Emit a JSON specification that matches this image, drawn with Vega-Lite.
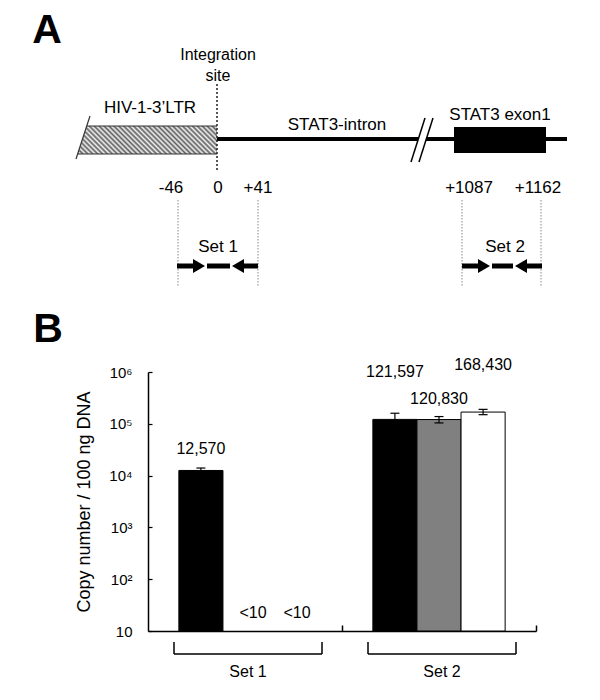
{
  "$schema": "https://vega.github.io/schema/vega-lite/v6.json",
  "padding": 0,
  "background": "white",
  "config": {"font": "Liberation Sans", "view": {"stroke": null}, "text": {"color": "black"}},
  "datasets": {
    "segments": [
      {"kind": "main", "x": 217, "y": 139, "x2": 418, "y2": 139},
      {"kind": "main", "x": 426, "y": 139, "x2": 567, "y2": 139},
      {"kind": "slash", "x": 425, "y": 118, "x2": 411, "y2": 162},
      {"kind": "slash", "x": 433, "y": 118, "x2": 419, "y2": 162},
      {"kind": "edge", "x": 87, "y": 126, "x2": 217, "y2": 126},
      {"kind": "edge", "x": 78, "y": 154, "x2": 217, "y2": 154},
      {"kind": "edge", "x": 90, "y": 116, "x2": 76, "y2": 159},
      {"kind": "site", "x": 217, "y": 84, "x2": 217, "y2": 172},
      {"kind": "guide", "x": 178, "y": 200, "x2": 178, "y2": 287},
      {"kind": "guide", "x": 258, "y": 200, "x2": 258, "y2": 287},
      {"kind": "guide", "x": 462, "y": 200, "x2": 462, "y2": 287},
      {"kind": "guide", "x": 541, "y": 200, "x2": 541, "y2": 287},
      {"kind": "arrow", "x": 177, "y": 266, "x2": 195, "y2": 266},
      {"kind": "arrow", "x": 207, "y": 266, "x2": 230, "y2": 266},
      {"kind": "arrow", "x": 242, "y": 266, "x2": 258, "y2": 266},
      {"kind": "arrow", "x": 462, "y": 266, "x2": 480, "y2": 266},
      {"kind": "arrow", "x": 492, "y": 266, "x2": 513, "y2": 266},
      {"kind": "arrow", "x": 526, "y": 266, "x2": 542, "y2": 266}
    ],
    "heads": [
      {"x": 199, "y": 266, "dir": "right"},
      {"x": 238, "y": 266, "dir": "left"},
      {"x": 484, "y": 266, "dir": "right"},
      {"x": 521, "y": 266, "dir": "left"}
    ],
    "hivbox": [
      {"x": 78, "y": 154, "y2": 154},
      {"x": 87, "y": 126, "y2": 154},
      {"x": 217, "y": 126, "y2": 154}
    ],
    "exon": [{"x": 454, "x2": 546, "y": 127, "y2": 153}],
    "texts": [
      {"x": 47, "y": 43, "text": "A", "kind": "panel"},
      {"x": 48, "y": 342, "text": "B", "kind": "panel"},
      {"x": 218, "y": 60, "text": "Integration", "kind": "small"},
      {"x": 218, "y": 81, "text": "site", "kind": "small"},
      {"x": 150, "y": 113, "text": "HIV-1-3’LTR", "kind": "label"},
      {"x": 337, "y": 130, "text": "STAT3-intron", "kind": "label"},
      {"x": 500, "y": 120, "text": "STAT3 exon1", "kind": "label"},
      {"x": 171, "y": 193, "text": "-46", "kind": "label"},
      {"x": 218, "y": 193, "text": "0", "kind": "label"},
      {"x": 258, "y": 193, "text": "+41", "kind": "label"},
      {"x": 469, "y": 193, "text": "+1087", "kind": "label"},
      {"x": 538, "y": 193, "text": "+1162", "kind": "label"},
      {"x": 218, "y": 252, "text": "Set 1", "kind": "label"},
      {"x": 505, "y": 252, "text": "Set 2", "kind": "label"}
    ],
    "counts": [
      {"set": "Set 1", "sample": "S1", "copies": 12570, "lo": 11300, "hi": 14000, "label": "12,570"},
      {"set": "Set 1", "sample": "S2", "copies": null, "lo": null, "hi": null, "label": "<10"},
      {"set": "Set 1", "sample": "S3", "copies": null, "lo": null, "hi": null, "label": "<10"},
      {"set": "Set 2", "sample": "S1", "copies": 121597, "lo": 90000, "hi": 160000, "label": "121,597"},
      {"set": "Set 2", "sample": "S2", "copies": 120830, "lo": 104000, "hi": 138000, "label": "120,830"},
      {"set": "Set 2", "sample": "S3", "copies": 168430, "lo": 150000, "hi": 190000, "label": "168,430"}
    ],
    "sets": [{"set": "Set 1"}, {"set": "Set 2"}]
  },
  "spacing": 0,
  "bounds": "flush",
  "vconcat": [
    {
      "width": 600,
      "height": 372,
      "encoding": {
        "x": {"field": "x", "type": "quantitative", "scale": {"domain": [0, 600], "nice": false, "zero": false}, "axis": null},
        "y": {"field": "y", "type": "quantitative", "scale": {"domain": [0, 372], "nice": false, "zero": false, "reverse": true}, "axis": null}
      },
      "layer": [
        {
          "data": {"name": "hivbox"},
          "mark": {
            "type": "area", "orient": "vertical",
            "fill": {
              "gradient": "linear", "x1": 0, "y1": 1, "x2": 1.1546, "y2": 0.7675,
              "stops": [
                {"offset": 0, "color": "#5e5e5e"}, {"offset": 0.0147, "color": "#f2f2f2"},
                {"offset": 0.0294, "color": "#5e5e5e"}, {"offset": 0.0441, "color": "#f2f2f2"},
                {"offset": 0.0588, "color": "#5e5e5e"}, {"offset": 0.0735, "color": "#f2f2f2"},
                {"offset": 0.0882, "color": "#5e5e5e"}, {"offset": 0.1029, "color": "#f2f2f2"},
                {"offset": 0.1176, "color": "#5e5e5e"}, {"offset": 0.1324, "color": "#f2f2f2"},
                {"offset": 0.1471, "color": "#5e5e5e"}, {"offset": 0.1618, "color": "#f2f2f2"},
                {"offset": 0.1765, "color": "#5e5e5e"}, {"offset": 0.1912, "color": "#f2f2f2"},
                {"offset": 0.2059, "color": "#5e5e5e"}, {"offset": 0.2206, "color": "#f2f2f2"},
                {"offset": 0.2353, "color": "#5e5e5e"}, {"offset": 0.25, "color": "#f2f2f2"},
                {"offset": 0.2647, "color": "#5e5e5e"}, {"offset": 0.2794, "color": "#f2f2f2"},
                {"offset": 0.2941, "color": "#5e5e5e"}, {"offset": 0.3088, "color": "#f2f2f2"},
                {"offset": 0.3235, "color": "#5e5e5e"}, {"offset": 0.3382, "color": "#f2f2f2"},
                {"offset": 0.3529, "color": "#5e5e5e"}, {"offset": 0.3676, "color": "#f2f2f2"},
                {"offset": 0.3824, "color": "#5e5e5e"}, {"offset": 0.3971, "color": "#f2f2f2"},
                {"offset": 0.4118, "color": "#5e5e5e"}, {"offset": 0.4265, "color": "#f2f2f2"},
                {"offset": 0.4412, "color": "#5e5e5e"}, {"offset": 0.4559, "color": "#f2f2f2"},
                {"offset": 0.4706, "color": "#5e5e5e"}, {"offset": 0.4853, "color": "#f2f2f2"},
                {"offset": 0.5, "color": "#5e5e5e"}, {"offset": 0.5147, "color": "#f2f2f2"},
                {"offset": 0.5294, "color": "#5e5e5e"}, {"offset": 0.5441, "color": "#f2f2f2"},
                {"offset": 0.5588, "color": "#5e5e5e"}, {"offset": 0.5735, "color": "#f2f2f2"},
                {"offset": 0.5882, "color": "#5e5e5e"}, {"offset": 0.6029, "color": "#f2f2f2"},
                {"offset": 0.6176, "color": "#5e5e5e"}, {"offset": 0.6324, "color": "#f2f2f2"},
                {"offset": 0.6471, "color": "#5e5e5e"}, {"offset": 0.6618, "color": "#f2f2f2"},
                {"offset": 0.6765, "color": "#5e5e5e"}, {"offset": 0.6912, "color": "#f2f2f2"},
                {"offset": 0.7059, "color": "#5e5e5e"}, {"offset": 0.7206, "color": "#f2f2f2"},
                {"offset": 0.7353, "color": "#5e5e5e"}, {"offset": 0.75, "color": "#f2f2f2"},
                {"offset": 0.7647, "color": "#5e5e5e"}, {"offset": 0.7794, "color": "#f2f2f2"},
                {"offset": 0.7941, "color": "#5e5e5e"}, {"offset": 0.8088, "color": "#f2f2f2"},
                {"offset": 0.8235, "color": "#5e5e5e"}, {"offset": 0.8382, "color": "#f2f2f2"},
                {"offset": 0.8529, "color": "#5e5e5e"}, {"offset": 0.8676, "color": "#f2f2f2"},
                {"offset": 0.8824, "color": "#5e5e5e"}, {"offset": 0.8971, "color": "#f2f2f2"},
                {"offset": 0.9118, "color": "#5e5e5e"}, {"offset": 0.9265, "color": "#f2f2f2"},
                {"offset": 0.9412, "color": "#5e5e5e"}, {"offset": 0.9559, "color": "#f2f2f2"},
                {"offset": 0.9706, "color": "#5e5e5e"}, {"offset": 0.9853, "color": "#f2f2f2"},
                {"offset": 1, "color": "#5e5e5e"}
              ]
            }
          },
          "encoding": {"y2": {"field": "y2"}}
        },
        {
          "data": {"name": "segments"},
          "transform": [{"filter": "datum.kind == 'edge'"}],
          "mark": {"type": "rule", "color": "#333333", "strokeWidth": 1.2},
          "encoding": {"x2": {"field": "x2"}, "y2": {"field": "y2"}}
        },
        {
          "data": {"name": "segments"},
          "transform": [{"filter": "datum.kind == 'main'"}],
          "mark": {"type": "rule", "color": "black", "strokeWidth": 4},
          "encoding": {"x2": {"field": "x2"}, "y2": {"field": "y2"}}
        },
        {
          "data": {"name": "segments"},
          "transform": [{"filter": "datum.kind == 'slash'"}],
          "mark": {"type": "rule", "color": "black", "strokeWidth": 1.5},
          "encoding": {"x2": {"field": "x2"}, "y2": {"field": "y2"}}
        },
        {
          "data": {"name": "segments"},
          "transform": [{"filter": "datum.kind == 'site'"}],
          "mark": {"type": "rule", "color": "#222222", "strokeWidth": 1.5, "strokeDash": [2, 2]},
          "encoding": {"x2": {"field": "x2"}, "y2": {"field": "y2"}}
        },
        {
          "data": {"name": "segments"},
          "transform": [{"filter": "datum.kind == 'guide'"}],
          "mark": {"type": "rule", "color": "#888888", "strokeWidth": 1, "strokeDash": [1.5, 1.5]},
          "encoding": {"x2": {"field": "x2"}, "y2": {"field": "y2"}}
        },
        {
          "data": {"name": "segments"},
          "transform": [{"filter": "datum.kind == 'arrow'"}],
          "mark": {"type": "rule", "color": "black", "strokeWidth": 5},
          "encoding": {"x2": {"field": "x2"}, "y2": {"field": "y2"}}
        },
        {
          "data": {"name": "heads"},
          "mark": {"type": "point", "filled": true, "opacity": 1, "color": "black", "size": 196},
          "encoding": {
            "shape": {"field": "dir", "type": "nominal", "scale": {"domain": ["right", "left"], "range": ["M-0.86,-1L0.86,0L-0.86,1Z", "M0.86,-1L-0.86,0L0.86,1Z"]}, "legend": null}
          }
        },
        {
          "data": {"name": "exon"},
          "mark": {"type": "rect", "color": "black"},
          "encoding": {"x2": {"field": "x2"}, "y2": {"field": "y2"}}
        },
        {
          "data": {"name": "texts"},
          "transform": [{"filter": "datum.kind == 'panel'"}],
          "mark": {"type": "text", "fontSize": 41, "fontWeight": "bold", "baseline": "alphabetic"},
          "encoding": {"text": {"field": "text"}}
        },
        {
          "data": {"name": "texts"},
          "transform": [{"filter": "datum.kind == 'label'"}],
          "mark": {"type": "text", "fontSize": 17, "baseline": "alphabetic"},
          "encoding": {"text": {"field": "text"}}
        },
        {
          "data": {"name": "texts"},
          "transform": [{"filter": "datum.kind == 'small'"}],
          "mark": {"type": "text", "fontSize": 16, "baseline": "alphabetic"},
          "encoding": {"text": {"field": "text"}}
        }
      ]
    },
    {
      "spacing": 0,
      "bounds": "flush",
      "hconcat": [
        {
          "width": 148,
          "height": 259,
          "data": {"values": [{"a": 1}]},
          "mark": {"type": "point", "opacity": 0},
          "encoding": {}
        },
        {
          "width": 388,
          "height": 259,
          "layer": [
            {
              "data": {"name": "counts"},
              "mark": {"type": "bar", "stroke": "black", "strokeWidth": 1},
              "encoding": {
                "x": {"field": "set", "type": "nominal", "scale": {"paddingInner": 0, "paddingOuter": 0},
                  "axis": {"title": null, "labels": false, "ticks": true, "tickSize": -6, "tickWidth": 1.5, "tickColor": "black", "bandPosition": 1, "domainColor": "black", "domainWidth": 1.5}},
                "xOffset": {"field": "sample", "type": "nominal", "scale": {"domain": ["S1", "S2", "S3"], "paddingOuter": 0.7, "paddingInner": 0}},
                "y": {"field": "copies", "type": "quantitative", "scale": {"type": "log", "domain": [10, 1000000], "nice": false},
                  "axis": {"title": "Copy number / 100 ng DNA", "values": [10, 100, 1000, 10000, 100000, 1000000],
                    "labelExpr": "datum.value >= 1000000 ? '10⁶' : datum.value >= 100000 ? '10⁵' : datum.value >= 10000 ? '10⁴' : datum.value >= 1000 ? '10³' : datum.value >= 100 ? '10²' : '10'",
                    "grid": false, "domainColor": "black", "domainWidth": 1.5, "tickColor": "black", "tickSize": -4, "tickWidth": 1.2,
                    "labelFontSize": 15, "labelColor": "black", "labelPadding": 20,
                    "titleFontSize": 18, "titleFontWeight": "normal", "titleColor": "black", "titlePadding": 15}},
                "y2": {"datum": 10},
                "fill": {"field": "sample", "type": "nominal", "scale": {"domain": ["S1", "S2", "S3"], "range": ["#000000", "#808080", "#ffffff"]}, "legend": null}
              }
            },
            {
              "data": {"name": "counts"},
              "transform": [{"filter": "datum.copies != null"}],
              "mark": {"type": "rule", "color": "black", "strokeWidth": 1.2},
              "encoding": {
                "x": {"field": "set", "type": "nominal"},
                "xOffset": {"field": "sample", "type": "nominal"},
                "y": {"field": "lo", "type": "quantitative"},
                "y2": {"field": "hi"}
              }
            },
            {
              "data": {"name": "counts"},
              "transform": [{"filter": "datum.copies != null"}],
              "mark": {"type": "tick", "orient": "horizontal", "size": 9, "thickness": 1.2, "color": "black", "opacity": 1},
              "encoding": {
                "x": {"field": "set", "type": "nominal"},
                "xOffset": {"field": "sample", "type": "nominal"},
                "y": {"field": "hi", "type": "quantitative"}
              }
            },
            {
              "data": {"name": "counts"},
              "transform": [{"filter": "datum.copies != null"}],
              "mark": {"type": "tick", "orient": "horizontal", "size": 9, "thickness": 1.2, "color": "black", "opacity": 1},
              "encoding": {
                "x": {"field": "set", "type": "nominal"},
                "xOffset": {"field": "sample", "type": "nominal"},
                "y": {"field": "lo", "type": "quantitative"}
              }
            },
            {
              "data": {"name": "counts"},
              "transform": [{"filter": "(datum.set == 'Set 1' && datum.sample == 'S1') || (datum.set == 'Set 2' && datum.sample == 'S2')"}],
              "mark": {"type": "text", "fontSize": 16, "baseline": "alphabetic", "dy": -16},
              "encoding": {
                "x": {"field": "set", "type": "nominal"},
                "xOffset": {"field": "sample", "type": "nominal"},
                "y": {"field": "copies", "type": "quantitative"},
                "text": {"field": "label"}
              }
            },
            {
              "data": {"name": "counts"},
              "transform": [{"filter": "datum.set == 'Set 2' && datum.sample != 'S2'"}],
              "mark": {"type": "text", "fontSize": 16, "baseline": "alphabetic", "dy": -42},
              "encoding": {
                "x": {"field": "set", "type": "nominal"},
                "xOffset": {"field": "sample", "type": "nominal"},
                "y": {"field": "copies", "type": "quantitative"},
                "text": {"field": "label"}
              }
            },
            {
              "data": {"name": "counts"},
              "transform": [{"filter": "datum.copies == null"}],
              "mark": {"type": "text", "fontSize": 16, "baseline": "alphabetic", "dy": -13, "dx": 8},
              "encoding": {
                "x": {"field": "set", "type": "nominal"},
                "xOffset": {"field": "sample", "type": "nominal"},
                "y": {"datum": 10},
                "text": {"field": "label"}
              }
            },
            {
              "data": {"name": "sets"},
              "mark": {"type": "text", "fontSize": 16, "baseline": "alphabetic", "dy": 46, "dx": 3},
              "encoding": {
                "x": {"field": "set", "type": "nominal"},
                "y": {"datum": 10},
                "text": {"field": "set"}
              }
            },
            {
              "data": {"name": "sets"},
              "mark": {"type": "tick", "orient": "horizontal", "size": 148, "thickness": 1.5, "color": "black", "opacity": 1, "yOffset": 23, "xOffset": 3},
              "encoding": {
                "x": {"field": "set", "type": "nominal"},
                "y": {"datum": 10}
              }
            },
            {
              "data": {"name": "sets"},
              "mark": {"type": "tick", "orient": "vertical", "size": 12, "thickness": 1.5, "color": "black", "opacity": 1, "yOffset": 17, "xOffset": -71},
              "encoding": {
                "x": {"field": "set", "type": "nominal"},
                "y": {"datum": 10}
              }
            },
            {
              "data": {"name": "sets"},
              "mark": {"type": "tick", "orient": "vertical", "size": 12, "thickness": 1.5, "color": "black", "opacity": 1, "yOffset": 17, "xOffset": 77},
              "encoding": {
                "x": {"field": "set", "type": "nominal"},
                "y": {"datum": 10}
              }
            }
          ]
        }
      ]
    }
  ]
}
